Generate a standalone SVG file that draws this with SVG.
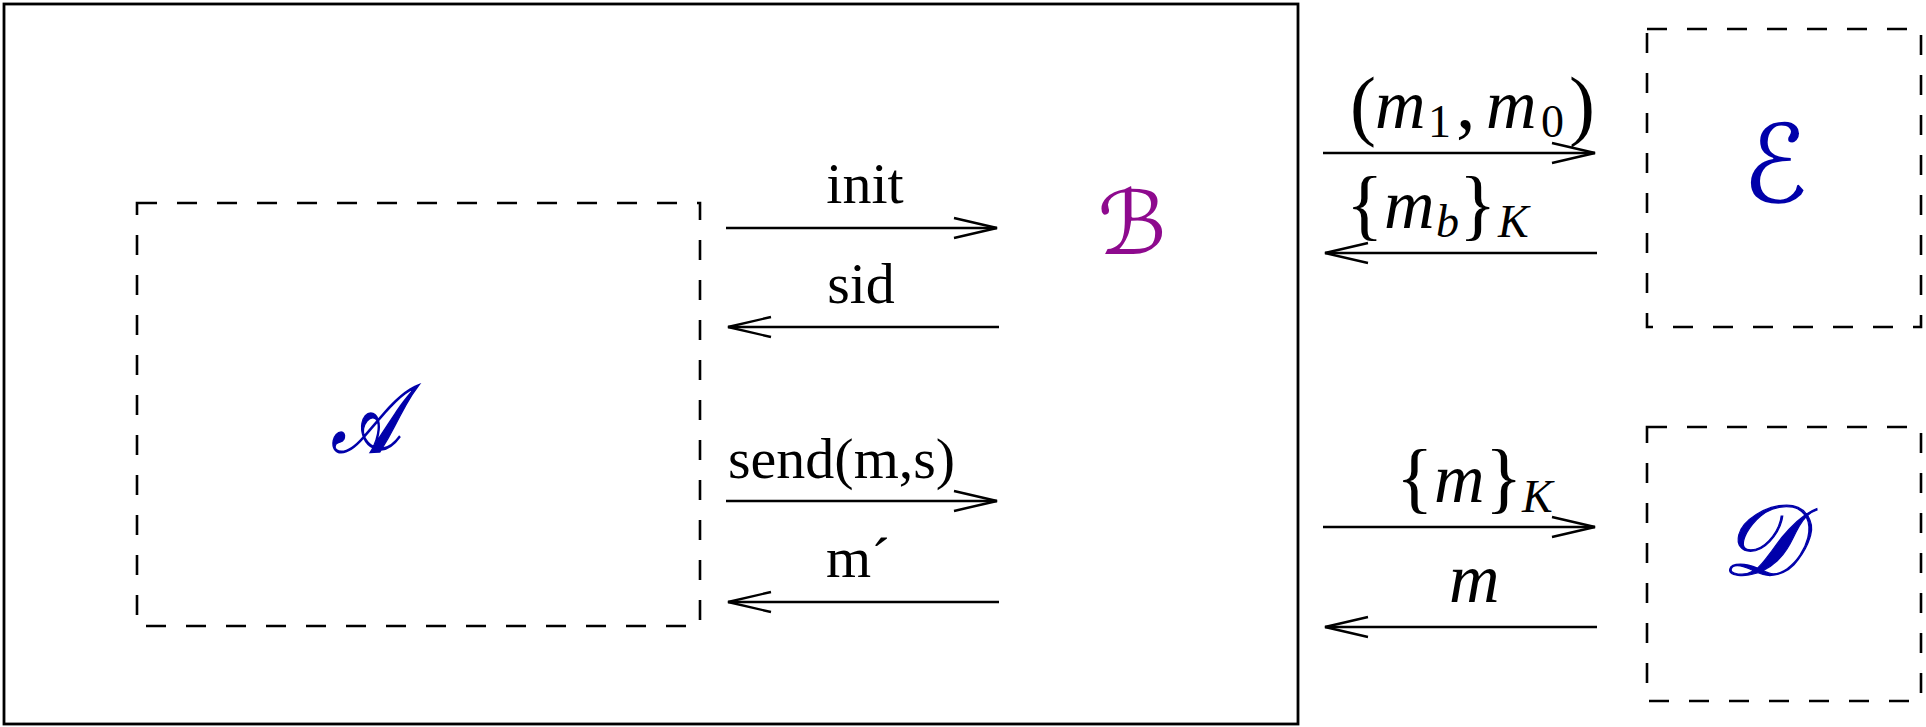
<svg xmlns="http://www.w3.org/2000/svg" width="1926" height="727" viewBox="0 0 1926 727">
  <style>
    .frame { fill: none; stroke: #000; stroke-width: 2.8; }
    .box { fill: none; stroke: #000; stroke-width: 2.6; stroke-dasharray: 20 20; }
    .wire { fill: none; stroke: #000; stroke-width: 2.4; marker-end: url(#head); }
    text { font-family: 'Liberation Serif', 'Times New Roman', serif; }
    .lbl { font-size: 58px; fill: #000; }
    .math { fill: #000; }
    .it { font-style: italic; font-size: 70px; }
    .rm { font-style: normal; font-size: 78px; }
    .sit { font-style: italic; font-size: 46px; }
    .sub { font-style: normal; font-size: 46px; }
    .cal { font-family: 'DejaVu Serif', 'DejaVu Sans', serif; font-style: italic; text-anchor: middle; }
    .blue { fill: #0000aa; }
    .purple { fill: #8e0a8e; }
  </style>
  <defs>
    <marker id="head" markerUnits="userSpaceOnUse" viewBox="0 0 46 24" refX="44" refY="12" markerWidth="46" markerHeight="24" orient="auto">
      <path d="M1,2 L44,12 L1,22" fill="none" stroke="#000" stroke-width="2.4"/>
    </marker>
  </defs>

  <!-- enclosing system boundary -->
  <g id="system">
    <rect class="frame" x="4" y="4" width="1294" height="720"/>
  </g>

  <!-- adversary A -->
  <g id="node-A">
    <rect class="box" x="137" y="203" width="563" height="423"/>
    <text class="cal blue" x="366" y="452" font-size="96" stroke="#0000aa" stroke-width="1.6" transform="translate(366 0) scale(0.76 1) translate(-366 0)">𝒜</text>
  </g>

  <!-- B -->
  <g id="node-B">
    <text class="cal purple" x="1132" y="254" font-size="88">ℬ</text>
  </g>

  <!-- E -->
  <g id="node-E">
    <rect class="box" x="1647" y="29" width="274" height="298"/>
    <text class="cal blue" x="1775" y="202" font-size="108">ℰ</text>
  </g>

  <!-- D -->
  <g id="node-D">
    <rect class="box" x="1647" y="427" width="274" height="274"/>
    <text class="cal blue" x="1761" y="575" font-size="100" stroke="#0000aa" stroke-width="1.2">𝒟</text>
  </g>

  <!-- message arrows -->
  <g id="connectors">
    <path class="wire" d="M726,228 L997,228"/>
    <path class="wire" d="M999,327 L728,327"/>
    <path class="wire" d="M726,501 L997,501"/>
    <path class="wire" d="M999,602 L728,602"/>
    <path class="wire" d="M1323,153 L1595,153"/>
    <path class="wire" d="M1597,253 L1325,253"/>
    <path class="wire" d="M1323,527 L1595,527"/>
    <path class="wire" d="M1597,627 L1325,627"/>
  </g>

  <!-- message labels -->
  <g id="labels">
    <text class="lbl" x="865" y="203" text-anchor="middle">init</text>
    <text class="lbl" x="861" y="303" text-anchor="middle">sid</text>
    <text class="lbl" x="728" y="478">send(m,s)</text>
    <text class="lbl" x="826" y="577">m´</text>

    <text class="math"><tspan class="rm" x="1350" y="131">(</tspan><tspan class="it" x="1375" y="128">m</tspan><tspan class="sub" x="1428" y="137">1</tspan><tspan class="rm" x="1456" y="128">,</tspan><tspan class="it" x="1486" y="128">m</tspan><tspan class="sub" x="1541" y="137">0</tspan><tspan class="rm" x="1569" y="131">)</tspan></text>

    <text class="math"><tspan class="rm" x="1346" y="231">{</tspan><tspan class="it" x="1384" y="228">m</tspan><tspan class="sit" x="1436" y="237">b</tspan><tspan class="rm" x="1459" y="231">}</tspan><tspan class="sit" x="1498" y="237">K</tspan></text>

    <text class="math"><tspan class="rm" x="1396" y="504">{</tspan><tspan class="it" x="1434" y="502">m</tspan><tspan class="rm" x="1485" y="504">}</tspan><tspan class="sit" x="1522" y="512">K</tspan></text>

    <text class="math it" x="1449" y="602">m</text>
  </g>
</svg>
